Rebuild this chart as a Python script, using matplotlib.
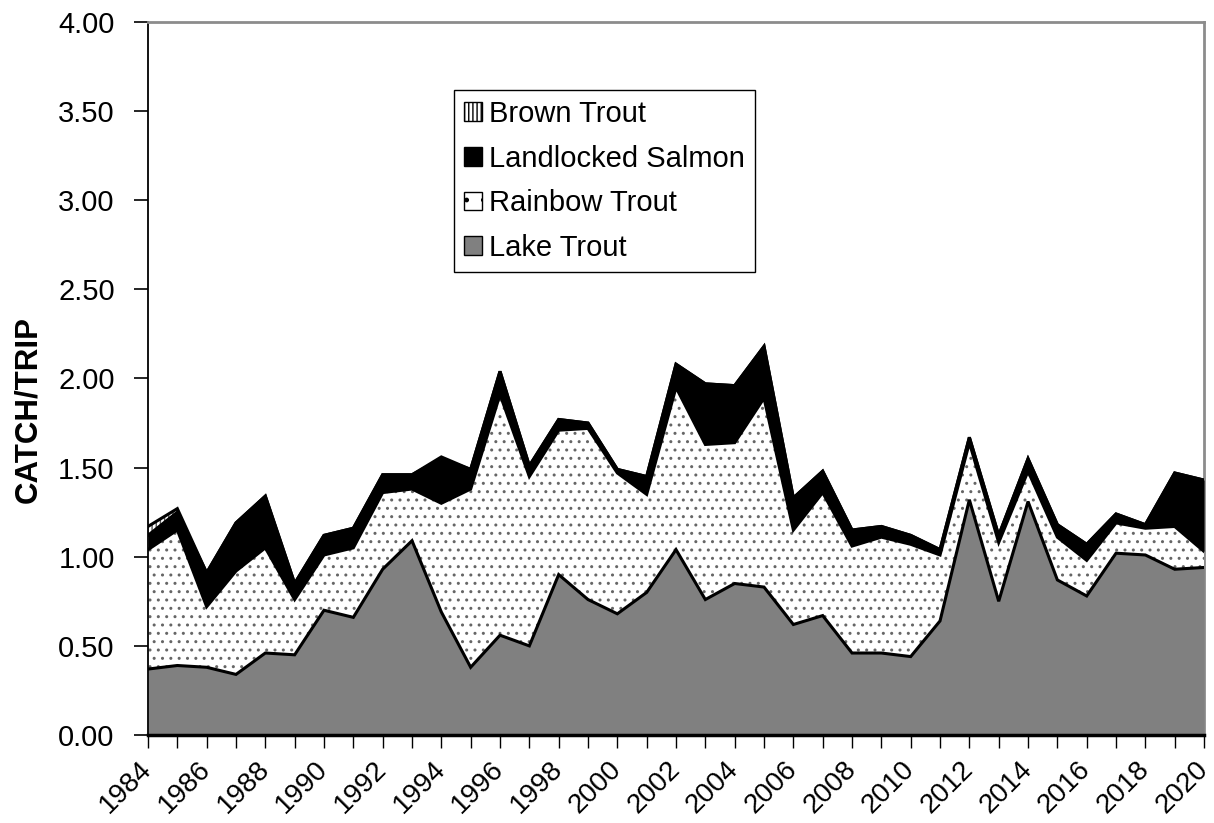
import matplotlib
matplotlib.use("Agg")
import matplotlib.pyplot as plt
import numpy as np
from matplotlib.patches import Patch

plt.rcParams['font.family'] = ['Liberation Sans', 'DejaVu Sans']
plt.rcParams['hatch.linewidth'] = 1.0

years = np.arange(1984, 2021)

lake_trout = [0.37, 0.39, 0.38, 0.34, 0.46, 0.45, 0.70, 0.66, 0.93, 1.09,
              0.69, 0.38, 0.56, 0.50, 0.90, 0.76, 0.68, 0.80, 1.04, 0.76,
              0.85, 0.83, 0.62, 0.67, 0.46, 0.46, 0.44, 0.64, 1.32, 0.75,
              1.31, 0.87, 0.78, 1.02, 1.01, 0.93, 0.94]
rainbow_trout = [0.67, 0.76, 0.34, 0.58, 0.59, 0.31, 0.31, 0.39, 0.43, 0.29,
                 0.61, 1.00, 1.35, 0.95, 0.81, 0.96, 0.79, 0.55, 0.91, 0.87,
                 0.79, 1.06, 0.53, 0.69, 0.60, 0.65, 0.63, 0.37, 0.32, 0.33,
                 0.17, 0.24, 0.20, 0.17, 0.15, 0.24, 0.09]
landlocked_salmon = [0.08, 0.10, 0.19, 0.27, 0.29, 0.09, 0.11, 0.11, 0.10, 0.08,
                     0.25, 0.11, 0.13, 0.06, 0.06, 0.03, 0.02, 0.10, 0.13, 0.34,
                     0.32, 0.29, 0.18, 0.12, 0.09, 0.06, 0.05, 0.03, 0.03, 0.04,
                     0.07, 0.07, 0.09, 0.05, 0.02, 0.30, 0.40]
brown_trout = [0.05, 0.02, 0, 0, 0, 0, 0, 0, 0, 0,
               0.01, 0, 0, 0, 0, 0, 0, 0, 0, 0,
               0, 0, 0, 0, 0, 0, 0, 0, 0, 0,
               0, 0, 0, 0, 0, 0, 0]

series = [lake_trout, rainbow_trout, landlocked_salmon, brown_trout]
names = ["Lake Trout", "Rainbow Trout", "Landlocked Salmon", "Brown Trout"]
faces = ['#808080', 'white', 'black', 'white']
hatches = [None, '..', None, '||||']
hatch_cols = ['#808080', '#666666', 'black', '#555555']

fig = plt.figure(figsize=(12.14, 8.23), dpi=100)
ax = fig.add_axes([0.1219, 0.1069, 0.8699, 0.8664])

bottom = np.zeros(len(years))
for vals, face, hatch, hcol in zip(series, faces, hatches, hatch_cols):
    top = bottom + np.array(vals)
    ax.fill_between(years, bottom, top, facecolor=face, hatch=hatch,
                    edgecolor=hcol, linewidth=0, zorder=1)
    bottom = top

# black outline along the top of each layer
bottom = np.zeros(len(years))
for vals in series:
    bottom = bottom + np.array(vals)
    ax.plot(years, bottom, color='black', lw=2.2, zorder=2,
            solid_joinstyle='miter')

ax.set_xlim(1984, 2020)
ax.set_ylim(0, 4)
yt = np.arange(0, 4.01, 0.5)
ax.set_yticks(yt)
ax.set_yticklabels(["{:.2f}".format(v) for v in yt], fontsize=21)
ax.set_xticks(years)
ax.set_xticklabels([str(y) if y % 2 == 0 else '' for y in years],
                   fontsize=20, rotation=45, ha='right', va='center',
                   rotation_mode='anchor')
ax.tick_params(axis='y', direction='out', length=10, width=1.2, pad=14)
ax.tick_params(axis='x', direction='out', length=9, width=1.0, pad=13)
ax.set_ylabel("CATCH/TRIP", fontsize=22.5, fontweight='bold')
ax.yaxis.set_label_coords(-0.099, 0.456)

for side in ['top', 'right']:
    ax.spines[side].set_color('#8c8c8c')
    ax.spines[side].set_linewidth(2)
ax.spines['right'].set_zorder(0.5)
ax.spines['left'].set_linewidth(1.3)
ax.spines['bottom'].set_linewidth(2.5)
ax.spines['bottom'].set_zorder(3)

handles = [Patch(facecolor='white', edgecolor='black', hatch='||||'),
           Patch(facecolor='black', edgecolor='black'),
           Patch(facecolor='white', edgecolor='black', hatch='.'),
           Patch(facecolor='#808080', edgecolor='black')]
leg = ax.legend(handles, names[::-1], loc='upper left',
                bbox_to_anchor=(0.29, 0.905), fontsize=21, frameon=True,
                fancybox=False, edgecolor='black', framealpha=1,
                handlelength=0.6, handleheight=0.6, handletextpad=0.25,
                labelspacing=0.57, borderpad=0.35, borderaxespad=0)
leg.get_frame().set_linewidth(1.0)

fig.savefig("out.png", dpi=100)
